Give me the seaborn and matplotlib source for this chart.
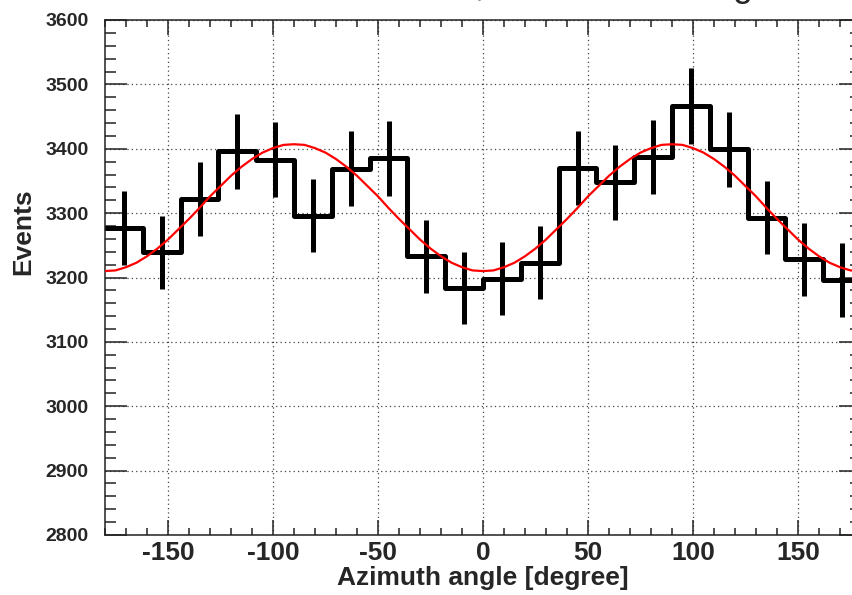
import numpy as np
import pandas as pd
import matplotlib
matplotlib.use("Agg")
import matplotlib.pyplot as plt
from matplotlib.ticker import MultipleLocator
import seaborn as sns

# histogram: 20 bins of 18 degrees
bin_edges = [-180, -162, -144, -126, -108, -90, -72, -54, -36, -18, 0,
             18, 36, 54, 72, 90, 108, 126, 144, 162, 180]
bin_centers = [-171, -153, -135, -117, -99, -81, -63, -45, -27, -9,
               9, 27, 45, 63, 81, 99, 117, 135, 153, 171]
events = [3277, 3239, 3322, 3396, 3383, 3296, 3369, 3385, 3233, 3183,
          3198, 3223, 3370, 3348, 3387, 3466, 3399, 3293, 3228, 3196]
errors = [57, 57, 58, 58, 58, 57, 58, 58, 57, 56,
          57, 57, 58, 58, 58, 59, 58, 57, 57, 57]

# red fit curve, read every 5 degrees from -180 to 180
fit_angle = list(range(-180, 181, 5))
fit_events = [3210, 3211, 3216, 3223, 3233, 3245, 3259, 3275, 3291, 3308,
              3326, 3342, 3358, 3372, 3384, 3394, 3401, 3406, 3407, 3406,
              3401, 3394, 3384, 3372, 3358, 3342, 3326, 3308, 3291, 3275,
              3259, 3245, 3233, 3223, 3216, 3211,
              3210, 3211, 3216, 3223, 3233, 3245, 3259, 3275, 3291, 3308,
              3326, 3342, 3358, 3372, 3384, 3394, 3401, 3406, 3407, 3406,
              3401, 3394, 3384, 3372, 3358, 3342, 3326, 3308, 3291, 3275,
              3259, 3245, 3233, 3223, 3216, 3211, 3210]

df = pd.DataFrame({"angle": bin_centers, "events": events, "err": errors})
fit = pd.DataFrame({"angle": fit_angle, "events": fit_events})

sns.set_style("white")
plt.rcParams["font.family"] = ["Liberation Sans", "DejaVu Sans"]
plt.rcParams["axes.unicode_minus"] = False

fig = plt.figure(figsize=(8.52, 5.95), dpi=100)
ax = fig.add_axes([105 / 852, 60 / 595, 756 / 852, 515 / 595])

ax.grid(True, which="major", color="#444444", linestyle=(0, (1, 2.5)), linewidth=0.9)
ax.set_axisbelow(True)

sns.histplot(data=df, x="angle", weights="events", bins=bin_edges,
             element="step", fill=False, color="black", linewidth=3.6, ax=ax)
ax.errorbar(df["angle"], df["events"], yerr=df["err"], fmt="none",
            ecolor="black", elinewidth=3.6, capsize=0, zorder=3)
sns.lineplot(data=fit, x="angle", y="events", color="red", linewidth=1.6,
             ax=ax, zorder=4)

ax.set_xlim(-180, 180)
ax.set_ylim(2800, 3600)
ax.xaxis.set_major_locator(MultipleLocator(50))
ax.xaxis.set_minor_locator(MultipleLocator(10))
ax.yaxis.set_major_locator(MultipleLocator(100))
ax.yaxis.set_minor_locator(MultipleLocator(20))

ax.tick_params(axis="x", which="both", direction="in", top=True, bottom=True,
               width=1.1, color="#222222")
ax.tick_params(axis="x", which="major", length=11, pad=4, labelsize=19)
ax.tick_params(axis="x", which="minor", length=5)
ax.tick_params(axis="y", which="both", direction="in", left=True, right=True,
               width=1.1, color="#222222")
ax.tick_params(axis="y", which="major", length=16, pad=12, labelsize=14)
ax.tick_params(axis="y", which="minor", length=8)
for lab in ax.get_xticklabels() + ax.get_yticklabels():
    lab.set_fontweight("bold")
for sp in ax.spines.values():
    sp.set_color("#222222")
    sp.set_linewidth(1.1)

ax.set_xlabel("Azimuth angle [degree]", fontsize=19, fontweight="bold")
ax.set_ylabel("Events", fontsize=19, fontweight="bold")
ax.xaxis.set_label_coords(0.5, -0.06)
ax.yaxis.set_label_coords(-0.092, 0.588)

# title is cut off at the top of the picture, only descenders show
fig.text(480 / 852, 1 + 4 / 595, ",", fontsize=26, ha="center", va="baseline")
fig.text(742 / 852, 1 + 4 / 595, "g", fontsize=26, ha="center", va="baseline")

fig.savefig("out.png", dpi=100)
